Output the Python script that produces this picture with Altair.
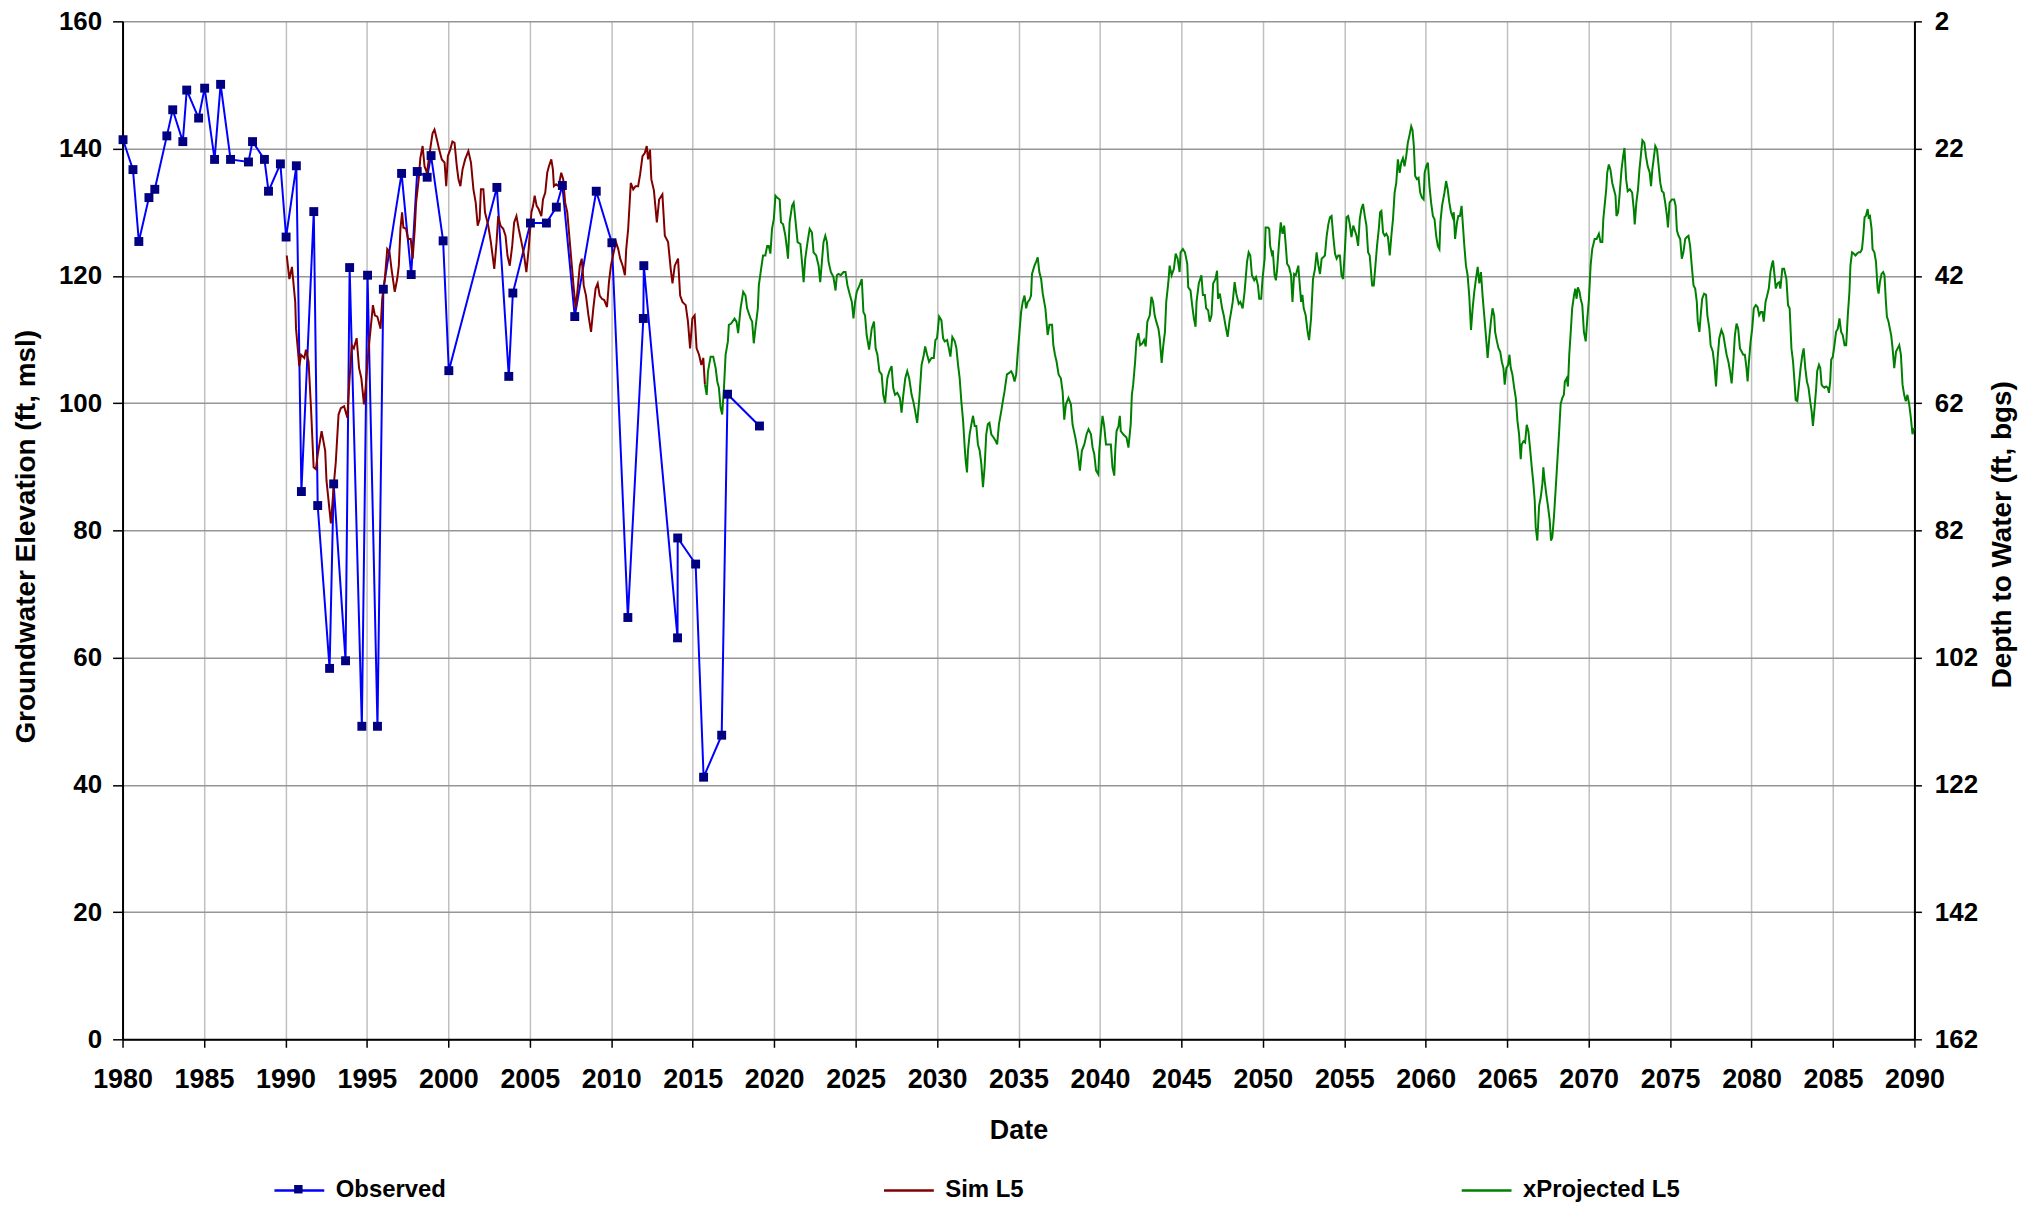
import altair as alt
import pandas as pd

# ---------------- data ----------------
series_names = ["Observed", "Sim L5", "xProjected L5"]
series_colors = ["#0000FF", "#800000", "#008000"]
marker_color = "#000080"
x_ticks = list(range(1980, 2091, 5))
y_ticks = list(range(0, 161, 20))
depth_offset = 162  # depth to water = 162 - elevation

obs_year = [1980.03, 1980.64, 1981.00, 1981.62, 1981.98, 1982.72, 1983.08, 1983.70, 1983.94, 1984.67,
            1985.04, 1985.65, 1986.02, 1986.63, 1987.73, 1987.98, 1988.71, 1988.96, 1989.69, 1990.04,
            1990.67, 1990.98, 1991.74, 1991.98, 1992.71, 1992.96, 1993.69, 1993.94, 1994.69, 1995.04,
            1995.65, 1996.01, 1997.13, 1997.72, 1998.09, 1998.70, 1998.94, 1999.68, 2000.03, 2002.98,
            2003.71, 2003.96, 2005.04, 2006.02, 2006.63, 2007.00, 2007.76, 2009.08, 2010.04, 2011.02,
            2011.97, 2012.00, 2014.07, 2014.08, 2015.18, 2015.67, 2016.78, 2017.14, 2019.10]
obs_elev = [141.4, 136.7, 125.4, 132.3, 133.6, 142.0, 146.1, 141.1, 149.2, 144.8,
            149.5, 138.3, 150.1, 138.3, 137.9, 141.1, 138.3, 133.3, 137.6, 126.1,
            137.3, 86.1, 130.1, 83.9, 58.3, 87.3, 59.5, 121.3, 49.2, 120.1,
            49.2, 117.9, 136.1, 120.2, 136.4, 135.5, 138.9, 125.5, 105.1, 133.9,
            104.2, 117.3, 128.3, 128.3, 130.8, 134.2, 113.6, 133.3, 125.2, 66.3,
            113.3, 121.6, 63.1, 78.8, 74.7, 41.2, 47.8, 101.4, 96.4]

sim_year = [1990.08, 1990.24, 1990.40, 1990.60, 1990.65, 1990.85, 1990.96, 1991.16, 1991.26, 1991.42,
            1991.57, 1991.73, 1991.87, 1991.97, 1992.22, 1992.44, 1992.52, 1992.79, 1992.99, 1993.09,
            1993.26, 1993.40, 1993.60, 1993.80, 1993.90, 1994.07, 1994.20, 1994.37, 1994.52, 1994.66,
            1994.82, 1994.92, 1995.09, 1995.23, 1995.37, 1995.49, 1995.64, 1995.84, 1995.94, 1996.10,
            1996.25, 1996.39, 1996.51, 1996.71, 1996.86, 1996.96, 1997.06, 1997.16, 1997.24, 1997.40,
            1997.53, 1997.69, 1997.81, 1997.94, 1998.02, 1998.18, 1998.28, 1998.42, 1998.54, 1998.69,
            1998.85, 1999.03, 1999.15, 1999.30, 1999.44, 1999.60, 1999.77, 1999.87, 1999.97, 2000.11,
            2000.25, 2000.38, 2000.52, 2000.62, 2000.74, 2000.87, 2001.03, 2001.23, 2001.39, 2001.54,
            2001.68, 2001.80, 2001.92, 2002.00, 2002.15, 2002.25, 2002.45, 2002.61, 2002.82, 2002.96,
            2003.06, 2003.20, 2003.37, 2003.51, 2003.63, 2003.77, 2003.92, 2004.04, 2004.18, 2004.32,
            2004.49, 2004.65, 2004.79, 2004.93, 2005.10, 2005.20, 2005.30, 2005.42, 2005.54, 2005.71,
            2005.81, 2005.95, 2006.07, 2006.17, 2006.32, 2006.42, 2006.48, 2006.62, 2006.77, 2006.93,
            2007.05, 2007.17, 2007.30, 2007.44, 2007.58, 2007.70, 2007.82, 2007.94, 2008.07, 2008.19,
            2008.31, 2008.45, 2008.60, 2008.76, 2008.90, 2009.04, 2009.17, 2009.29, 2009.43, 2009.57,
            2009.74, 2009.86, 2009.98, 2010.15, 2010.29, 2010.43, 2010.55, 2010.70, 2010.84, 2010.92,
            2011.04, 2011.20, 2011.35, 2011.49, 2011.65, 2011.77, 2011.92, 2012.06, 2012.18, 2012.26,
            2012.38, 2012.46, 2012.62, 2012.80, 2012.94, 2013.14, 2013.29, 2013.49, 2013.65, 2013.76,
            2013.90, 2014.10, 2014.23, 2014.37, 2014.57, 2014.71, 2014.84, 2014.98, 2015.12, 2015.24,
            2015.39, 2015.53, 2015.65, 2015.75]
sim_elev = [123.2, 119.5, 121.4, 115.9, 111.7, 105.8, 107.6, 107.1, 108.4, 106.5,
            99.2, 89.9, 89.6, 91.7, 95.6, 92.5, 87.8, 81.1, 87.8, 90.7,
            98.2, 99.2, 99.5, 97.7, 102.4, 109.1, 108.6, 110.2, 105.5, 103.9,
            99.8, 102.4, 108.1, 111.7, 115.4, 113.8, 113.6, 111.7, 116.4, 119.5,
            124.2, 123.7, 121.1, 117.5, 119.5, 121.6, 127.4, 130.0, 127.6, 127.4,
            125.8, 125.8, 122.7, 127.4, 131.5, 135.2, 138.5, 140.4, 137.2, 136.2,
            139.3, 142.4, 143.0, 141.4, 139.8, 138.3, 137.8, 134.1, 138.8, 139.8,
            141.1, 140.9, 137.2, 135.2, 134.1, 136.7, 138.3, 139.6, 137.8, 133.6,
            131.5, 127.9, 128.9, 133.6, 133.6, 130.0, 127.9, 125.3, 121.1, 125.3,
            129.4, 127.9, 127.4, 126.3, 123.2, 121.6, 124.7, 128.4, 129.4, 127.4,
            125.3, 123.2, 120.6, 124.2, 130.0, 131.0, 132.6, 131.0, 130.5, 129.4,
            132.0, 133.1, 136.2, 137.2, 138.3, 136.7, 134.1, 134.4, 134.1, 136.2,
            135.2, 131.5, 130.0, 125.8, 121.6, 118.0, 114.9, 118.0, 121.6, 122.7,
            118.5, 116.9, 113.8, 111.2, 114.9, 118.0, 118.8, 116.9, 116.4, 116.2,
            115.1, 119.0, 121.6, 123.7, 125.3, 124.2, 122.7, 121.6, 120.1, 124.2,
            127.4, 134.6, 133.6, 134.1, 134.1, 135.9, 138.8, 139.3, 140.4, 138.3,
            139.8, 135.2, 133.4, 128.4, 132.0, 132.8, 126.3, 125.3, 121.1, 118.8,
            121.6, 122.7, 116.9, 115.9, 115.4, 112.8, 108.6, 113.3, 113.8, 108.6,
            107.6, 106.0, 107.1, 102.9]

proj_year = [2015.75, 2015.86, 2015.94, 2016.10, 2016.26, 2016.41, 2016.51, 2016.61, 2016.71, 2016.81,
             2016.92, 2017.02, 2017.16, 2017.22, 2017.36, 2017.57, 2017.69, 2017.79, 2017.94, 2018.10,
             2018.24, 2018.34, 2018.55, 2018.65, 2018.75, 2018.85, 2019.00, 2019.06, 2019.20, 2019.32,
             2019.46, 2019.57, 2019.67, 2019.77, 2019.87, 2019.98, 2020.08, 2020.18, 2020.34, 2020.42,
             2020.55, 2020.69, 2020.79, 2020.85, 2020.95, 2021.10, 2021.20, 2021.30, 2021.44, 2021.61,
             2021.71, 2021.81, 2021.91, 2022.05, 2022.18, 2022.32, 2022.42, 2022.58, 2022.73, 2022.83,
             2022.93, 2023.03, 2023.14, 2023.24, 2023.34, 2023.48, 2023.64, 2023.77, 2023.85, 2023.95,
             2024.09, 2024.26, 2024.38, 2024.50, 2024.66, 2024.77, 2024.87, 2024.97, 2025.07, 2025.24,
             2025.38, 2025.48, 2025.58, 2025.68, 2025.83, 2025.99, 2026.13, 2026.23, 2026.34, 2026.46,
             2026.60, 2026.70, 2026.81, 2026.95, 2027.07, 2027.21, 2027.31, 2027.42, 2027.56, 2027.72,
             2027.82, 2027.93, 2028.05, 2028.17, 2028.29, 2028.44, 2028.54, 2028.66, 2028.78, 2028.90,
             2029.05, 2029.19, 2029.27, 2029.39, 2029.51, 2029.66, 2029.80, 2029.90, 2030.00, 2030.13,
             2030.27, 2030.37, 2030.47, 2030.62, 2030.74, 2030.82, 2030.94, 2031.09, 2031.19, 2031.29,
             2031.39, 2031.49, 2031.60, 2031.70, 2031.76, 2031.84, 2031.90, 2032.00, 2032.11, 2032.21,
             2032.31, 2032.41, 2032.51, 2032.62, 2032.72, 2032.82, 2032.92, 2033.02, 2033.12, 2033.22,
             2033.33, 2033.47, 2033.59, 2033.69, 2033.80, 2033.94, 2034.04, 2034.14, 2034.29, 2034.41,
             2034.55, 2034.65, 2034.76, 2034.86, 2034.96, 2035.06, 2035.16, 2035.26, 2035.37, 2035.47,
             2035.57, 2035.67, 2035.77, 2035.83, 2035.98, 2036.08, 2036.18, 2036.28, 2036.39, 2036.49,
             2036.65, 2036.79, 2036.90, 2037.06, 2037.14, 2037.24, 2037.34, 2037.46, 2037.60, 2037.71,
             2037.81, 2037.91, 2038.07, 2038.22, 2038.32, 2038.49, 2038.63, 2038.77, 2038.89, 2039.04,
             2039.18, 2039.30, 2039.45, 2039.55, 2039.65, 2039.76, 2039.90, 2039.96, 2040.06, 2040.16,
             2040.26, 2040.37, 2040.53, 2040.67, 2040.77, 2040.88, 2040.94, 2041.02, 2041.14, 2041.22,
             2041.28, 2041.43, 2041.55, 2041.63, 2041.75, 2041.89, 2041.96, 2042.04, 2042.16, 2042.24,
             2042.36, 2042.47, 2042.61, 2042.71, 2042.81, 2042.91, 2043.06, 2043.16, 2043.26, 2043.36,
             2043.46, 2043.59, 2043.67, 2043.79, 2043.89, 2043.99, 2044.07, 2044.20, 2044.28, 2044.40,
             2044.54, 2044.65, 2044.77, 2044.89, 2044.95, 2045.09, 2045.22, 2045.36, 2045.42, 2045.56,
             2045.66, 2045.77, 2045.87, 2045.93, 2046.07, 2046.23, 2046.32, 2046.44, 2046.52, 2046.64,
             2046.74, 2046.85, 2046.95, 2047.09, 2047.19, 2047.25, 2047.36, 2047.50, 2047.60, 2047.70,
             2047.84, 2047.95, 2048.05, 2048.15, 2048.27, 2048.37, 2048.52, 2048.62, 2048.76, 2048.88,
             2049.03, 2049.13, 2049.23, 2049.33, 2049.47, 2049.58, 2049.70, 2049.78, 2049.90, 2049.98,
             2050.11, 2050.17, 2050.31, 2050.39, 2050.45, 2050.55, 2050.61, 2050.72, 2050.80, 2050.88,
             2051.00, 2051.10, 2051.21, 2051.31, 2051.41, 2051.49, 2051.61, 2051.73, 2051.82, 2051.92,
             2052.02, 2052.18, 2052.22, 2052.35, 2052.43, 2052.51, 2052.63, 2052.75, 2052.84, 2052.96,
             2053.08, 2053.20, 2053.30, 2053.41, 2053.51, 2053.61, 2053.71, 2053.81, 2053.92, 2054.02,
             2054.12, 2054.22, 2054.32, 2054.43, 2054.53, 2054.63, 2054.73, 2054.83, 2054.93, 2055.04,
             2055.14, 2055.24, 2055.34, 2055.44, 2055.55, 2055.65, 2055.75, 2055.85, 2055.95, 2056.05,
             2056.15, 2056.26, 2056.36, 2056.46, 2056.56, 2056.71, 2056.81, 2056.91, 2057.01, 2057.12,
             2057.20, 2057.28, 2057.38, 2057.48, 2057.58, 2057.68, 2057.79, 2057.89, 2057.99, 2058.09,
             2058.19, 2058.29, 2058.40, 2058.50, 2058.60, 2058.70, 2058.80, 2058.90, 2059.01, 2059.11,
             2059.19, 2059.27, 2059.35, 2059.46, 2059.56, 2059.66, 2059.76, 2059.87, 2059.93, 2060.03,
             2060.13, 2060.23, 2060.33, 2060.44, 2060.54, 2060.64, 2060.74, 2060.84, 2060.90, 2061.00,
             2061.15, 2061.25, 2061.35, 2061.45, 2061.55, 2061.66, 2061.72, 2061.80, 2061.92, 2062.00,
             2062.10, 2062.20, 2062.27, 2062.37, 2062.47, 2062.57, 2062.67, 2062.78, 2062.88, 2062.98,
             2063.08, 2063.19, 2063.29, 2063.39, 2063.49, 2063.59, 2063.69, 2063.80, 2063.90, 2064.00,
             2064.10, 2064.20, 2064.26, 2064.37, 2064.47, 2064.57, 2064.67, 2064.77, 2064.85, 2064.95,
             2065.06, 2065.14, 2065.22, 2065.32, 2065.43, 2065.53, 2065.63, 2065.73, 2065.83, 2065.89,
             2066.00, 2066.10, 2066.20, 2066.30, 2066.40, 2066.51, 2066.61, 2066.69, 2066.75, 2066.85,
             2066.96, 2067.06, 2067.16, 2067.22, 2067.30, 2067.40, 2067.50, 2067.61, 2067.69, 2067.77,
             2067.87, 2067.97, 2068.08, 2068.18, 2068.28, 2068.38, 2068.48, 2068.54, 2068.65, 2068.73,
             2068.81, 2068.89, 2068.99, 2069.10, 2069.18, 2069.26, 2069.34, 2069.44, 2069.51, 2069.61,
             2069.71, 2069.82, 2069.92, 2070.02, 2070.12, 2070.22, 2070.37, 2070.49, 2070.63, 2070.73,
             2070.84, 2070.90, 2071.00, 2071.08, 2071.14, 2071.24, 2071.34, 2071.45, 2071.55, 2071.65,
             2071.71, 2071.81, 2071.91, 2072.02, 2072.12, 2072.20, 2072.30, 2072.40, 2072.53, 2072.67,
             2072.77, 2072.83, 2072.93, 2073.03, 2073.12, 2073.22, 2073.30, 2073.42, 2073.52, 2073.63,
             2073.75, 2073.83, 2073.91, 2073.99, 2074.09, 2074.20, 2074.30, 2074.40, 2074.50, 2074.60,
             2074.70, 2074.81, 2074.87, 2074.97, 2075.11, 2075.25, 2075.34, 2075.42, 2075.52, 2075.62,
             2075.72, 2075.82, 2075.93, 2076.03, 2076.13, 2076.23, 2076.33, 2076.44, 2076.54, 2076.64,
             2076.70, 2076.80, 2076.88, 2076.97, 2077.09, 2077.21, 2077.29, 2077.41, 2077.49, 2077.62,
             2077.72, 2077.82, 2077.92, 2078.02, 2078.15, 2078.27, 2078.37, 2078.47, 2078.58, 2078.68,
             2078.78, 2078.88, 2078.98, 2079.08, 2079.18, 2079.29, 2079.39, 2079.49, 2079.59, 2079.69,
             2079.76, 2079.84, 2079.94, 2080.04, 2080.14, 2080.26, 2080.37, 2080.47, 2080.57, 2080.67,
             2080.75, 2080.86, 2080.96, 2081.06, 2081.16, 2081.26, 2081.32, 2081.41, 2081.49, 2081.59,
             2081.69, 2081.77, 2081.89, 2082.00, 2082.14, 2082.24, 2082.34, 2082.45, 2082.55, 2082.65,
             2082.71, 2082.81, 2082.91, 2083.01, 2083.12, 2083.20, 2083.30, 2083.40, 2083.50, 2083.60,
             2083.69, 2083.77, 2083.87, 2083.97, 2084.03, 2084.14, 2084.22, 2084.30, 2084.38, 2084.48,
             2084.58, 2084.69, 2084.75, 2084.83, 2084.89, 2084.99, 2085.09, 2085.19, 2085.30, 2085.40,
             2085.50, 2085.60, 2085.71, 2085.81, 2085.91, 2086.01, 2086.07, 2086.17, 2086.27, 2086.38,
             2086.48, 2086.58, 2086.68, 2086.78, 2086.86, 2086.94, 2087.02, 2087.13, 2087.19, 2087.27,
             2087.37, 2087.43, 2087.54, 2087.64, 2087.74, 2087.80, 2087.88, 2087.98, 2088.08, 2088.16,
             2088.25, 2088.31, 2088.41, 2088.49, 2088.57, 2088.66, 2088.76, 2088.87, 2088.97, 2089.07,
             2089.17, 2089.27, 2089.37, 2089.47, 2089.57, 2089.68, 2089.78, 2089.88, 2089.98]
proj_elev = [102.9, 101.3, 105.0, 107.3, 107.3, 105.5, 103.4, 102.4, 99.3, 98.2,
             102.4, 107.6, 109.7, 112.3, 112.5, 113.3, 112.8, 111.0, 114.9, 117.5,
             116.9, 114.9, 113.3, 112.8, 109.4, 111.7, 114.9, 118.5, 121.1, 123.2,
             123.2, 124.7, 124.7, 123.5, 127.4, 128.9, 132.6, 132.3, 132.0, 128.4,
             128.1, 126.3, 124.2, 122.7, 128.4, 131.0, 131.5, 128.9, 125.3, 125.0,
             122.2, 119.0, 122.7, 125.3, 127.4, 126.8, 123.7, 123.2, 121.6, 119.0,
             122.2, 125.3, 126.3, 125.3, 122.2, 120.6, 119.8, 117.7, 120.1, 120.3,
             120.1, 120.6, 120.6, 118.5, 116.9, 115.9, 113.3, 115.9, 117.5, 118.5,
             119.5, 114.3, 113.8, 110.7, 108.4, 111.7, 112.8, 108.6, 107.6, 105.0,
             104.5, 101.3, 100.0, 103.9, 105.0, 105.8, 102.4, 101.3, 101.6, 100.8,
             98.5, 101.3, 103.9, 105.0, 103.9, 101.3, 100.3, 98.7, 96.9, 100.3,
             106.0, 107.6, 108.9, 107.6, 106.5, 107.1, 107.1, 109.9, 110.2, 113.6,
             113.0, 110.2, 109.7, 109.9, 108.4, 107.3, 110.4, 109.7, 108.6, 106.0,
             103.9, 100.3, 97.2, 93.0, 90.9, 89.1, 92.5, 95.1, 96.7, 98.0,
             96.4, 96.4, 93.5, 92.5, 90.4, 86.8, 89.9, 95.1, 96.7, 96.9,
             95.1, 94.6, 94.1, 93.5, 96.7, 98.7, 100.3, 101.8, 104.5, 104.7,
             105.0, 104.5, 103.4, 104.5, 108.1, 111.2, 114.3, 115.9, 116.9, 114.9,
             115.9, 116.2, 116.9, 120.3, 121.6, 122.2, 122.9, 120.6, 119.5, 117.2,
             114.9, 110.7, 112.3, 112.3, 109.1, 107.6, 106.5, 104.5, 103.9, 101.8,
             97.4, 99.8, 100.8, 99.8, 96.6, 94.6, 92.5, 89.4, 92.5, 93.5,
             95.1, 95.9, 95.1, 93.0, 92.0, 89.4, 88.8, 92.5, 95.6, 98.0,
             96.4, 93.5, 93.5, 93.5, 89.9, 88.6, 92.5, 95.6, 96.4, 98.0,
             95.6, 95.1, 94.8, 94.6, 93.0, 96.7, 101.3, 102.9, 106.5, 109.7,
             111.0, 109.1, 109.4, 109.9, 108.9, 112.8, 113.8, 116.7, 115.9, 113.8,
             112.8, 111.7, 110.2, 106.3, 109.1, 111.2, 115.9, 119.0, 121.6, 120.1,
             121.1, 123.5, 122.7, 120.6, 123.7, 124.2, 123.7, 121.9, 118.2, 117.7,
             115.4, 113.3, 112.0, 115.9, 118.8, 120.1, 117.0, 117.0, 114.9, 114.6,
             112.8, 113.8, 118.8, 119.5, 120.8, 116.4, 117.2, 114.9, 113.8, 112.3,
             110.4, 112.8, 114.3, 115.9, 119.0, 117.2, 115.6, 115.9, 114.9, 117.5,
             122.2, 123.7, 123.2, 120.1, 119.3, 119.8, 118.5, 116.4, 116.4, 119.5,
             122.7, 127.6, 127.6, 127.4, 124.7, 123.5, 124.0, 120.1, 119.3, 121.1,
             125.3, 128.4, 126.6, 127.9, 124.7, 121.9, 121.4, 120.1, 115.9, 120.3,
             120.1, 121.6, 120.1, 115.9, 117.0, 114.9, 113.8, 111.2, 109.9, 113.3,
             119.5, 121.1, 123.7, 121.6, 120.3, 122.7, 122.9, 123.2, 126.3, 128.1,
             129.2, 129.4, 126.3, 123.5, 122.7, 123.2, 123.2, 120.1, 119.5, 124.2,
             129.2, 129.4, 128.1, 126.1, 127.9, 127.1, 126.3, 124.7, 128.9, 130.5,
             131.3, 129.4, 127.9, 123.7, 123.2, 118.5, 118.5, 121.6, 124.7, 127.4,
             130.0, 130.2, 126.8, 126.3, 126.6, 126.1, 123.2, 126.3, 128.9, 133.1,
             134.6, 138.3, 136.2, 137.8, 138.5, 137.2, 138.8, 140.9, 142.2, 143.5,
             142.9, 140.4, 135.7, 135.2, 135.4, 133.1, 132.3, 132.0, 136.2, 137.2,
             137.8, 134.1, 131.5, 129.4, 128.9, 126.3, 124.7, 124.2, 128.4, 131.0,
             133.1, 134.9, 133.6, 131.5, 130.0, 129.2, 130.0, 125.8, 128.4, 129.4,
             129.4, 131.0, 128.4, 124.7, 121.6, 120.1, 116.9, 111.5, 114.9, 117.5,
             119.5, 121.4, 118.8, 120.6, 116.9, 113.8, 110.7, 107.1, 110.2, 112.8,
             114.9, 113.8, 111.2, 109.7, 108.6, 108.1, 106.5, 105.5, 102.9, 105.5,
             106.0, 107.6, 105.5, 104.5, 102.4, 100.8, 97.2, 95.1, 91.2, 93.5,
             94.0, 93.8, 96.6, 95.6, 93.0, 89.9, 87.3, 84.7, 80.5, 78.4,
             83.9, 85.2, 87.3, 89.9, 87.8, 85.7, 83.9, 81.6, 78.4, 78.9,
             82.1, 86.2, 90.9, 95.1, 99.8, 100.8, 101.3, 103.4, 103.9, 102.6,
             107.6, 110.7, 114.9, 116.9, 118.0, 116.4, 118.2, 117.5, 116.4, 115.4,
             111.2, 109.7, 113.3, 116.4, 121.6, 124.2, 125.8, 125.8, 126.6, 125.3,
             125.3, 128.9, 131.5, 133.6, 136.2, 137.5, 136.7, 134.6, 133.6, 132.6,
             129.4, 130.0, 133.1, 136.7, 138.8, 140.1, 135.2, 133.3, 133.6, 133.1,
             130.5, 128.1, 131.5, 133.6, 136.7, 139.3, 141.3, 140.9, 138.8, 137.2,
             136.2, 134.1, 136.7, 138.3, 140.4, 139.8, 137.2, 134.6, 133.3, 133.1,
             131.5, 129.4, 127.6, 131.5, 132.0, 132.0, 131.0, 127.1, 126.3, 125.8,
             122.7, 123.7, 125.8, 126.1, 126.3, 124.7, 121.6, 118.5, 118.0, 115.9,
             112.8, 111.2, 113.8, 116.4, 117.2, 117.0, 113.8, 111.7, 109.1, 108.1,
             106.0, 102.6, 107.1, 110.2, 111.5, 110.7, 109.1, 107.6, 106.5, 105.0,
             103.1, 106.5, 110.7, 112.5, 111.7, 108.6, 108.1, 107.6, 107.6, 105.5,
             103.4, 106.5, 109.6, 111.7, 114.9, 115.4, 115.1, 113.8, 114.3, 114.3,
             112.8, 115.9, 116.9, 118.0, 120.6, 121.9, 122.4, 120.1, 118.0, 118.8,
             119.0, 118.0, 121.1, 121.1, 119.5, 115.4, 114.9, 108.6, 106.5, 102.9,
             100.5, 100.3, 102.9, 105.5, 107.6, 108.6, 105.5, 103.4, 102.4, 100.3,
             98.7, 96.4, 99.3, 102.4, 105.0, 106.0, 105.5, 102.9, 102.6, 102.4,
             102.6, 102.4, 101.6, 103.4, 106.8, 107.3, 109.1, 111.2, 111.7, 113.3,
             111.2, 110.7, 109.1, 109.1, 113.8, 117.5, 121.6, 123.7, 123.5, 123.2,
             123.5, 123.7, 123.7, 124.2, 126.3, 129.2, 129.4, 130.5, 129.2, 129.4,
             127.4, 124.2, 123.7, 122.2, 118.0, 117.2, 119.0, 120.3, 120.6, 120.1,
             115.9, 113.6, 112.8, 111.7, 110.7, 108.6, 105.5, 108.1, 108.6, 109.1,
             107.6, 102.9, 101.3, 100.3, 101.3, 99.8, 97.7, 95.1, 96.1]


def frame(years, vals, name):
    return pd.DataFrame({"year": years, "elev": vals, "series": name,
                         "idx": list(range(len(years)))})


lines_df = pd.concat([frame(obs_year, obs_elev, series_names[0]),
                      frame(sim_year, sim_elev, series_names[1]),
                      frame(proj_year, proj_elev, series_names[2])], ignore_index=True)
obs_df = frame(obs_year, obs_elev, series_names[0])

# ---------------- styling ----------------
FONT = "Liberation Sans"
W, H = 1799, 1022
TOP = 11

x_scale = alt.Scale(domain=[1980, 2090], nice=False, zero=False)
y_scale = alt.Scale(domain=[0, 160], nice=False, zero=False)

x_axis = alt.Axis(values=x_ticks, format="d", title="Date", grid=True,
                  gridColor="#C0C0C0", gridWidth=1.5, labelFontSize=27,
                  titleFontSize=27, labelPadding=19, tickSize=8, tickColor="black",
                  tickWidth=1.5, domainColor="black", domainWidth=2, labelFlush=False,
                  titleX=W / 2, titleY=92, titleBaseline="middle", titleAlign="center")

left_axis = alt.Axis(orient="left", values=y_ticks, title="Groundwater Elevation (ft, msl)",
                     grid=True, gridColor="#969696", gridWidth=1.5, labelFontSize=26,
                     titleFontSize=28, tickSize=10, tickColor="black", tickWidth=1.5,
                     domainColor="black", domainWidth=2, labelPadding=11,
                     titleAngle=270, titleX=-96, titleY=517,
                     titleBaseline="middle", titleAlign="center")

right_axis = alt.Axis(orient="right", values=y_ticks, title="Depth to Water (ft, bgs)",
                      labelExpr=f"{depth_offset} - datum.value", grid=False,
                      labelFontSize=26, titleFontSize=28, tickSize=7, tickColor="black",
                      tickWidth=1.5, domainColor="black", domainWidth=2, labelPadding=13,
                      titleAngle=270, titleX=88, titleY=515,
                      titleBaseline="middle", titleAlign="center")

color_legend = alt.Legend(orient="none", legendX=151, legendY=1147, direction="horizontal",
                          title=None, symbolType="stroke", symbolSize=2500,
                          symbolStrokeWidth=2.5, labelFont=FONT, labelFontWeight="bold",
                          labelFontSize=24, labelColor="black", labelOffset=10,
                          columnPadding=434, padding=0, labelLimit=0, symbolOffset=0)

# small square marker overlaid on the "Observed" legend line
marker_legend = alt.Legend(orient="none", legendX=172, legendY=1168, title=None,
                           labelExpr="''", labelFontSize=1, labelOffset=0, padding=0,
                           symbolSize=72, symbolFillColor=marker_color,
                           symbolStrokeColor=marker_color, symbolStrokeWidth=0,
                           symbolOffset=0, symbolOpacity=1)

lines = alt.Chart(lines_df).mark_line(strokeWidth=2).encode(
    x=alt.X("year:Q", scale=x_scale, axis=x_axis),
    y=alt.Y("elev:Q", scale=y_scale, axis=left_axis),
    color=alt.Color("series:N", scale=alt.Scale(domain=series_names, range=series_colors),
                    legend=color_legend),
    order=alt.Order("idx:Q"),
)

points = alt.Chart(obs_df).mark_point(filled=True, size=80, color=marker_color,
                                      opacity=1).encode(
    x=alt.X("year:Q", scale=x_scale, axis=x_axis),
    y=alt.Y("elev:Q", scale=y_scale, axis=right_axis),
    shape=alt.Shape("series:N", scale=alt.Scale(domain=[series_names[0]], range=["square"]),
                    legend=marker_legend),
)

chart = (
    alt.layer(lines, points)
    .resolve_scale(y="independent")
    .properties(width=W, height=H, autosize="none",
                padding={"left": 115, "top": TOP, "right": 109, "bottom": 181})
    .configure_view(stroke=None)
    .configure_axis(labelFont=FONT, titleFont=FONT, labelFontWeight="bold",
                    titleFontWeight="bold", labelColor="black", titleColor="black")
)

chart.save("out.html", embed_options={"renderer": "svg", "actions": False})
